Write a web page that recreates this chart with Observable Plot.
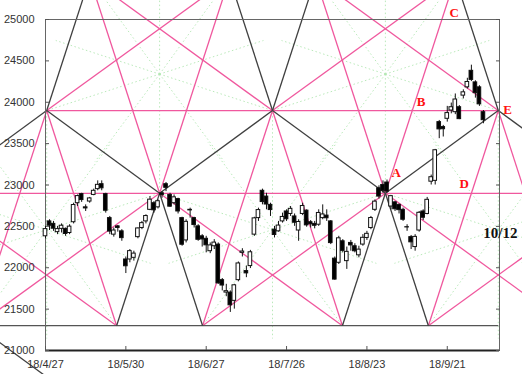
<!DOCTYPE html>
<html><head><meta charset="utf-8">
<script src="https://cdn.jsdelivr.net/npm/d3@7"></script>
<script src="https://cdn.jsdelivr.net/npm/@observablehq/plot@0.6"></script>
<style>html,body{margin:0;padding:0;background:#fff;overflow:hidden}</style>
</head><body><div id="chart"></div>
<script>
// ---- candlestick data (trading-day index = position in these arrays) ----
const dates = ["4/27","5/1","5/2","5/7","5/8","5/9","5/10","5/11","5/14","5/15","5/16","5/17","5/18","5/21","5/22","5/23","5/24","5/25","5/28","5/29","5/30","5/31","6/1","6/4","6/5","6/6","6/7","6/8","6/11","6/12","6/13","6/14","6/15","6/18","6/19","6/20","6/21","6/22","6/25","6/26","6/27","6/28","6/29","7/2","7/3","7/4","7/5","7/6","7/9","7/10","7/11","7/12","7/13","7/17","7/18","7/19","7/20","7/23","7/24","7/25","7/26","7/27","7/30","7/31","8/1","8/2","8/3","8/6","8/7","8/8","8/9","8/10","8/13","8/14","8/15","8/16","8/17","8/20","8/21","8/22","8/23","8/24","8/27","8/28","8/29","8/30","8/31","9/3","9/4","9/5","9/6","9/7","9/10","9/11","9/12","9/13","9/14","9/18","9/19","9/20","9/21","9/25","9/26","9/27","9/28","10/1","10/2","10/3","10/4","10/5"];
const open  = [22380,22560,22530,22430,22470,22470,22420,22550,22780,22890,22730,22800,22880,22950,23010,22890,22600,22400,22500,22440,22100,22100,22120,22370,22480,22560,22700,22780,22730,22900,23010,22880,22780,22830,22600,22330,22700,22600,22500,22380,22350,22200,22260,22280,21850,21700,21700,21600,21850,22180,21960,22020,22400,22600,22930,22860,22760,22460,22440,22560,22680,22650,22620,22450,22650,22690,22550,22530,22520,22600,22630,22560,22110,22060,22320,22080,22300,22260,22150,22280,22360,22480,22700,22960,23000,23030,22740,22790,22760,22700,22490,22370,22250,22450,22680,22650,23040,23050,23760,23700,23800,23900,23880,23940,24080,24180,24380,24240,24180,23880];
const high  = [22500,22580,22560,22500,22530,22480,22520,22780,22880,22900,22760,22850,22950,23050,23050,22900,22620,22480,22510,22460,22130,22220,22200,22480,22560,22640,22860,22800,22820,22920,23030,22900,22880,22840,22610,22580,22720,22610,22520,22400,22380,22300,22340,22300,21870,21800,21720,21800,22070,22230,22020,22210,22610,22720,22950,22900,22780,22500,22560,22660,22700,22740,22650,22580,22780,22700,22570,22560,22700,22760,22700,22570,22130,22380,22340,22250,22330,22290,22260,22400,22440,22620,22820,22990,23050,23060,22870,22800,22770,22720,22520,22390,22400,22680,22700,22850,23120,23430,23780,23720,23950,23990,24100,23960,24150,24290,24448,24260,24200,23900];
const low   = [22350,22450,22440,22400,22420,22380,22400,22530,22740,22790,22680,22780,22870,22930,22930,22660,22400,22370,22430,22320,21930,22060,22080,22350,22460,22530,22690,22660,22710,22840,22920,22730,22760,22650,22260,22300,22600,22480,22320,22250,22180,22170,22220,21800,21720,21650,21460,21500,21830,22130,21880,21990,22380,22560,22760,22700,22620,22360,22430,22540,22560,22620,22500,22320,22630,22490,22480,22470,22500,22580,22560,22280,21850,22040,22180,21980,22200,22180,22120,22260,22330,22460,22680,22830,22900,22900,22700,22680,22650,22560,22440,22220,22200,22430,22570,22640,23000,23000,23560,23580,23760,23860,23850,23790,24040,24160,24250,24050,23950,23740];
const close = [22467,22508,22472,22467,22508,22408,22497,22758,22866,22818,22717,22838,22930,23002,22960,22689,22437,22450,22481,22358,22018,22201,22171,22475,22539,22625,22823,22694,22804,22878,22966,22738,22851,22680,22278,22555,22693,22516,22338,22342,22271,22270,22304,21811,21785,21717,21546,21788,22052,22196,21932,22187,22597,22697,22794,22764,22697,22396,22510,22614,22586,22712,22544,22553,22746,22512,22525,22507,22662,22644,22598,22298,21857,22356,22204,22192,22270,22199,22219,22362,22410,22601,22799,22860,22930,22920,22865,22707,22696,22580,22487,22307,22373,22664,22604,22821,23094,23420,23672,23674,23869,23940,24033,23796,24120,24245,24270,24110,23975,23783];

// ---- axis ticks ----
const xTickIndex  = [0, 20, 40, 60, 80, 100];
const xTickLabels = ["18/4/27","18/5/30","18/6/27","18/7/26","18/8/23","18/9/21"];
const yTicks = [21000,21500,22000,22500,23000,23500,24000,24500,25000];

// ---- overlay geometry (trading-day index, price) ----
const pivotIndex = [-27.8, 0.3, 28.4, 56.5, 84.6, 112.7, 140.8];
const pivotPrice = [22900, 23900, 22900, 23900, 22900, 23900, 22900];
const topPrice = 25500;
const bottomPrice = 21300;
const halfBase = 10.7;

// ---- annotations ----
const letterText  = ["A","B","C","D","E"];
const letterIndex = [87.3, 93.5, 101.7, 104.2, 115.0];
const letterPrice = [23143, 24001, 25076, 23010, 23904];
const noteText  = ["10/12"];
const noteIndex = [113.2];
const notePrice = [22417];

// ---------------------------------------------------------------
const candles = dates.map((d, i) => ({i, date: d, open: open[i], high: high[i], low: low[i], close: close[i]}));

const P = pivotIndex.map((x, j) => [x, pivotPrice[j]]);
const firstUp = pivotIndex[1], lastUp = pivotIndex[5];
const seg = (a, b) => ({x1: a[0], y1: a[1], x2: b[0], y2: b[1]});
const pink = [], black = [], spokes = [];

function intersect(a, b, c, d) {
  const den = (a[0]-b[0])*(c[1]-d[1]) - (a[1]-b[1])*(c[0]-d[0]);
  const t = ((a[0]-c[0])*(c[1]-d[1]) - (a[1]-c[1])*(c[0]-d[0])) / den;
  return [a[0] + t*(b[0]-a[0]), a[1] + t*(b[1]-a[1])];
}
function pentagram(v) {
  const edges = v.map((p, i) => [p, v[(i + 2) % 5]]);
  edges.forEach(e => pink.push(seg(e[0], e[1])));
  const c = [d3.mean(v, p => p[0]), d3.mean(v, p => p[1])];
  v.forEach(p => spokes.push(seg(c, p)));
  edges.forEach((e, i) => {
    const f = edges[(i + 1) % 5];
    const q = intersect(e[0], e[1], f[0], f[1]);
    spokes.push(seg(c, [c[0] + 2.4*(q[0]-c[0]), c[1] + 2.4*(q[1]-c[1])]));
  });
}
// upper pentagrams (around the inner lower pivots)
[2, 4].forEach(j => {
  const l = P[j-1][0], r = P[j+1][0];
  pentagram([[l + halfBase, topPrice], [r - halfBase, topPrice], P[j+1], P[j], P[j-1]]);
});
// lower pentagrams (around the upper pivots)
[1, 3, 5].forEach(j => {
  const l = P[j-1][0], r = P[j+1][0];
  pentagram([P[j], P[j+1], [r - halfBase, bottomPrice], [l + halfBase, bottomPrice], P[j-1]]);
});
// black zigzag
for (let j = 0; j < P.length - 1; j++) black.push(seg(P[j], P[j+1]));
// black steep legs
P.forEach((p, j) => {
  const isUp = p[1] === 23900;
  const lvl = isUp ? topPrice : bottomPrice;
  [-1, 1].forEach(s => {
    const end = [p[0] + s*halfBase, lvl];
    if (j > 0 && j < P.length - 1 && end[0] >= firstUp && end[0] <= lastUp) black.push(seg(p, end));
  });
});
// stray leg below bottom-left
const step = pivotIndex[2] - pivotIndex[1];
black.push(seg([pivotIndex[0] + halfBase, bottomPrice], [pivotIndex[0] + halfBase + step, bottomPrice - (pivotPrice[1] - pivotPrice[0])]));
const baseLine = [seg([pivotIndex[0], bottomPrice], [lastUp, bottomPrice])];

const letters = letterText.map((t, i) => ({t, x: letterIndex[i], y: letterPrice[i]}));
const notes = noteText.map((t, i) => ({t, x: noteIndex[i], y: notePrice[i]}));

const chart = Plot.plot({
  width: 522, height: 374,
  marginLeft: 45, marginRight: 23, marginTop: 19, marginBottom: 24,
  x: {type: "linear", domain: [0, 113], axis: null},
  y: {domain: [21000, 25000], axis: null},
  style: {fontFamily: "Liberation Sans, Arial, sans-serif", fontSize: "11px", background: "white", overflow: "hidden"},
  marks: [
    Plot.link(spokes, {x1: "x1", y1: "y1", x2: "x2", y2: "y2", stroke: "#b2e6b2", strokeWidth: 0.9, strokeDasharray: "1.5,2.5"}),
    Plot.link(pink, {x1: "x1", y1: "y1", x2: "x2", y2: "y2", stroke: "#f0589e", strokeWidth: 1.3}),
    Plot.link(baseLine, {x1: "x1", y1: "y1", x2: "x2", y2: "y2", stroke: "#555", strokeWidth: 1.2}),
    Plot.link(black, {x1: "x1", y1: "y1", x2: "x2", y2: "y2", stroke: "#404040", strokeWidth: 1.3}),
    Plot.frame({stroke: "#666"}),
    Plot.ruleY([21000], {stroke: "#222", strokeWidth: 2}),
    Plot.axisY(yTicks, {anchor: "left", tickSize: -4, tickFormat: () => "", stroke: "#555"}),
    Plot.axisY(yTicks, {anchor: "right", tickSize: -4, tickFormat: () => "", stroke: "#555"}),
    Plot.axisY(yTicks, {anchor: "left", tickSize: 0, tickPadding: 11, tickFormat: d => String(d), fill: "#333", fontSize: 11}),
    Plot.axisX(xTickIndex, {anchor: "bottom", tickSize: -4, tickFormat: () => "", stroke: "#555"}),
    Plot.axisX(xTickIndex, {anchor: "bottom", tickSize: 0, tickPadding: 10, tickFormat: d => xTickLabels[xTickIndex.indexOf(d)], fill: "#333", fontSize: 11}),
    Plot.ruleX(candles, {x: "i", y1: "low", y2: "high", stroke: "#111", strokeWidth: 1}),
    Plot.rect(candles, {x1: d => d.i - 0.45, x2: d => d.i + 0.45, y1: "open", y2: "close",
      fill: d => d.close >= d.open ? "white" : "black", stroke: "#111", strokeWidth: 1}),
    Plot.text(letters, {x: "x", y: "y", text: "t", fill: "#ff1010", fontFamily: "Liberation Serif", fontWeight: "bold", fontSize: 13}),
    Plot.text(notes, {x: "x", y: "y", text: "t", fill: "#111", fontFamily: "Liberation Serif", fontWeight: "bold", fontSize: 15})
  ]
});
document.getElementById("chart").appendChild(chart);
</script>
</body></html>
